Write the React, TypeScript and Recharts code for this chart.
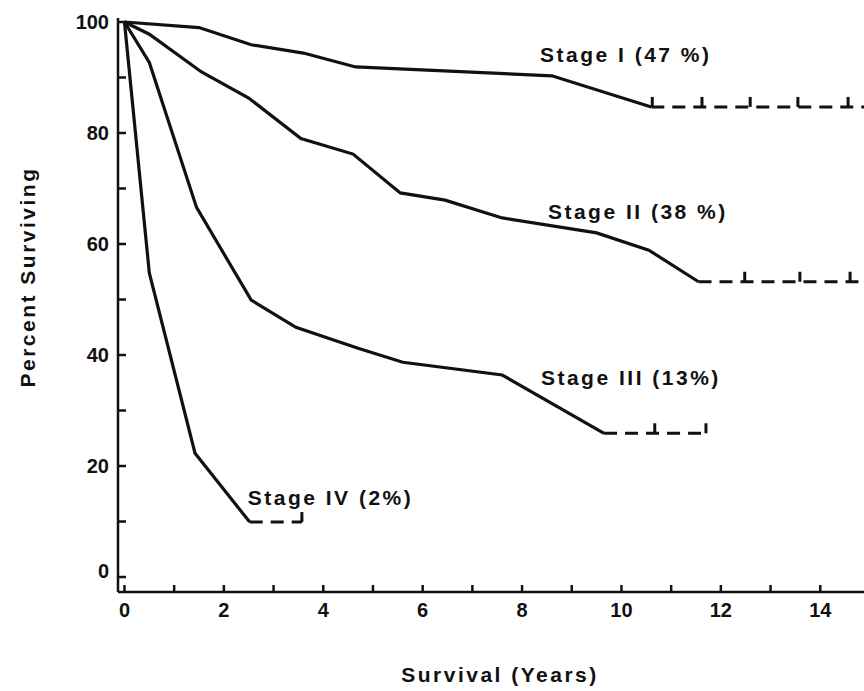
import { LineChart, Line, XAxis, YAxis, ReferenceDot } from 'recharts';

// survival curves (years, percent surviving)
const stage1Years = [0, 1.5, 2.55, 3.6, 4.65, 8.6, 10.6];
const stage1Pct = [100, 99, 95.9, 94.4, 91.9, 90.3, 84.7];
const stage2Years = [0, 0.5, 1.55, 2.5, 3.55, 4.6, 5.55, 6.45, 7.6, 9.5, 10.55, 11.55];
const stage2Pct = [100, 97.8, 91, 86.3, 79, 76.2, 69.2, 67.9, 64.7, 62, 58.9, 53.2];
const stage3Years = [0, 0.5, 1.45, 2.55, 3.45, 4.7, 5.6, 7.6, 9.65];
const stage3Pct = [100, 92.7, 66.6, 49.9, 45, 41.2, 38.7, 36.4, 25.9];
const stage4Years = [0, 0.5, 1.42, 2.52];
const stage4Pct = [100, 54.8, 22.3, 9.9];

// dashed plateaus after the last death
const stage1TailYears = [10.6, 14.88];
const stage2TailYears = [11.55, 14.88];
const stage3TailYears = [9.65, 11.7];
const stage4TailYears = [2.52, 3.57];

// censored patients (tick marks on the plateaus)
const stage1Censored = [10.62, 11.62, 12.59, 13.55, 14.56];
const stage2Censored = [12.48, 13.59, 14.6];
const stage3Censored = [10.67, 11.7];
const stage4Censored = [3.57];

const stageNames = ['Stage I (47 %)', 'Stage II (38 %)', 'Stage III (13%)', 'Stage IV (2%)'];
const labelYears = [8.36, 8.52, 8.38, 2.48];
const labelPcts = [94.2, 65.9, 36, 14.4];

const xTicks = [0, 1, 2, 3, 4, 5, 6, 7, 8, 9, 10, 11, 12, 13, 14];
const yTicks = [0, 10, 20, 30, 40, 50, 60, 70, 80, 90, 100];

const FONT = '"Liberation Sans", Arial, sans-serif';
const INK = '#111';

const pts = (years: number[], pcts: number[]) => years.map((year, i) => ({ year, pct: pcts[i] }));
const flat = (years: number[], pct: number) => years.map((year) => ({ year, pct }));

const XTick = (props: any) => {
  const { x, y, payload } = props;
  const v = payload.value;
  return (
    <g>
      <line x1={x} y1={y} x2={x} y2={y - 7} stroke={INK} strokeWidth={2.5} />
      {v % 2 === 0 && (
        <text x={x} y={y + 18} textAnchor="middle" dominantBaseline="central" fontFamily={FONT} fontWeight="bold" fontSize={20} fill={INK}>
          {v}
        </text>
      )}
    </g>
  );
};

const YTick = (props: any) => {
  const { x, y, payload } = props;
  const v = payload.value;
  return (
    <g>
      <line x1={x} y1={y} x2={x + 8} y2={y} stroke={INK} strokeWidth={2.5} />
      {v % 20 === 0 && (
        <text x={x - 9} y={v === 0 ? y - 6 : y} textAnchor="end" dominantBaseline="central" fontFamily={FONT} fontWeight="bold" fontSize={20} fill={INK}>
          {v}
        </text>
      )}
    </g>
  );
};

const CensorMark = (props: any) => {
  const { cx, cy, index } = props;
  return <line key={index} x1={cx} y1={cy} x2={cx} y2={cy - 10} stroke={INK} strokeWidth={3} />;
};

const stageLabel = (text: string) => (props: any) => {
  const vb = props.viewBox || {};
  const x = (vb.x ?? 0) + (vb.width ?? 0) / 2;
  const y = (vb.y ?? 0) + (vb.height ?? 0) / 2;
  return (
    <text x={x} y={y} dominantBaseline="central" fontFamily={FONT} fontWeight="bold" fontSize={21} letterSpacing={2.5} fill={INK}>
      {text}
    </text>
  );
};

function App() {
  const solids = [
    pts(stage1Years, stage1Pct),
    pts(stage2Years, stage2Pct),
    pts(stage3Years, stage3Pct),
    pts(stage4Years, stage4Pct),
  ];
  const tails = [
    flat(stage1TailYears, stage1Pct[stage1Pct.length - 1]),
    flat(stage2TailYears, stage2Pct[stage2Pct.length - 1]),
    flat(stage3TailYears, stage3Pct[stage3Pct.length - 1]),
    flat(stage4TailYears, stage4Pct[stage4Pct.length - 1]),
  ];
  const censored = [
    flat(stage1Censored, stage1Pct[stage1Pct.length - 1]),
    flat(stage2Censored, stage2Pct[stage2Pct.length - 1]),
    flat(stage3Censored, stage3Pct[stage3Pct.length - 1]),
    flat(stage4Censored, stage4Pct[stage4Pct.length - 1]),
  ];

  return (
    <div style={{ position: 'absolute', left: 0, top: 0, width: 864, height: 691, background: '#fff' }}>
      <LineChart width={864} height={691} margin={{ top: 18, right: 0, bottom: 39, left: 58 }}>
        <XAxis
          type="number"
          dataKey="year"
          domain={[-0.13, 14.88]}
          allowDataOverflow
          ticks={xTicks}
          interval={0}
          tickSize={0}
          tickMargin={0}
          tickLine={false}
          tick={<XTick />}
          height={60}
          axisLine={{ stroke: INK, strokeWidth: 2.5 }}
        />
        <YAxis
          type="number"
          dataKey="pct"
          domain={[-2.7, 100.72]}
          allowDataOverflow
          ticks={yTicks}
          interval={0}
          tickSize={0}
          tickMargin={0}
          tickLine={false}
          tick={<YTick />}
          width={60}
          axisLine={{ stroke: INK, strokeWidth: 2.5 }}
        />
        {solids.map((d, i) => (
          <Line key={'s' + i} data={d} dataKey="pct" type="linear" stroke={INK} strokeWidth={3.2} dot={false} isAnimationActive={false} />
        ))}
        {tails.map((d, i) => (
          <Line key={'t' + i} data={d} dataKey="pct" type="linear" stroke={INK} strokeWidth={3} strokeDasharray="13 8" dot={false} isAnimationActive={false} />
        ))}
        {censored.map((d, i) => (
          <Line key={'c' + i} data={d} dataKey="pct" stroke="none" dot={<CensorMark />} activeDot={false} isAnimationActive={false} />
        ))}
        {stageNames.map((name, i) => (
          <ReferenceDot key={'l' + i} x={labelYears[i]} y={labelPcts[i]} r={0} fill="none" stroke="none" label={stageLabel(name)} />
        ))}
      </LineChart>
      <div
        style={{
          position: 'absolute',
          left: 28,
          top: 277,
          transform: 'translate(-50%, -50%) rotate(-90deg)',
          whiteSpace: 'nowrap',
          fontFamily: FONT,
          fontWeight: 'bold',
          fontSize: 21,
          letterSpacing: 2.5,
          color: INK,
        }}
      >
        Percent Surviving
      </div>
      <div
        style={{
          position: 'absolute',
          left: 500,
          top: 675,
          transform: 'translate(-50%, -50%)',
          whiteSpace: 'nowrap',
          fontFamily: FONT,
          fontWeight: 'bold',
          fontSize: 21,
          letterSpacing: 2.5,
          color: INK,
        }}
      >
        Survival (Years)
      </div>
    </div>
  );
}

export default App;
